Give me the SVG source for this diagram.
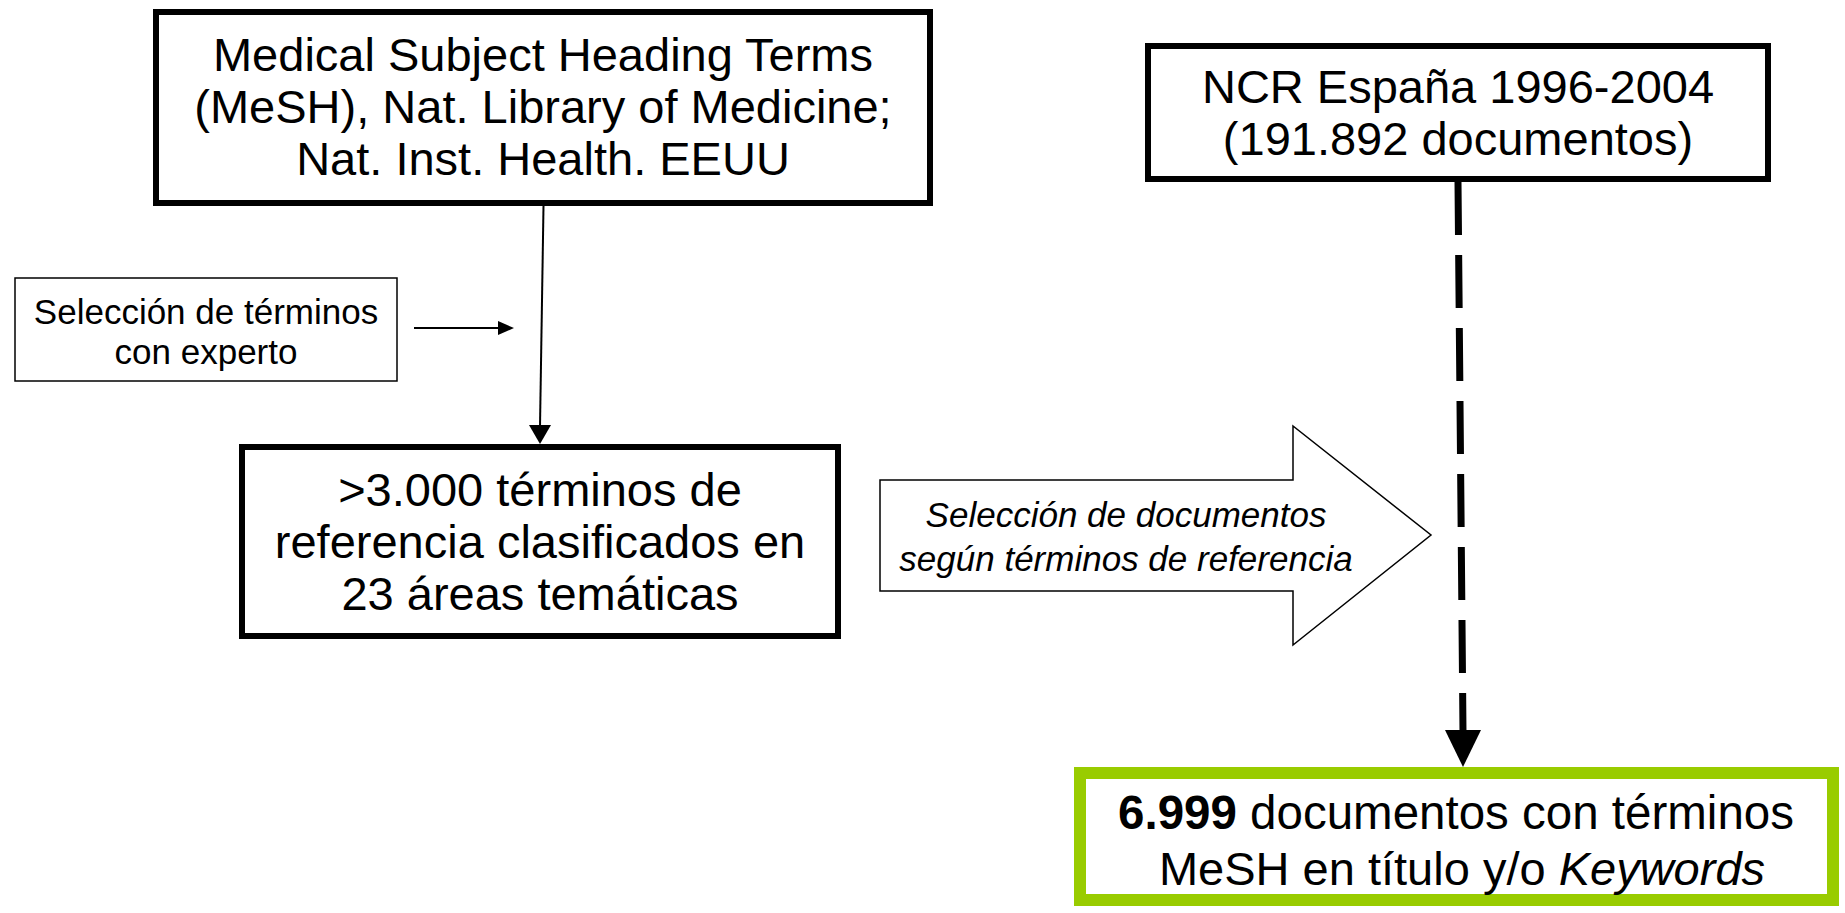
<svg xmlns="http://www.w3.org/2000/svg" width="1845" height="913" viewBox="0 0 1845 913">
<style>
.box{fill:#fff;stroke:#000;stroke-width:6}
.thin{fill:#fff;stroke:#000;stroke-width:1.5}
.t{font-family:"Liberation Sans",Arial,sans-serif;font-size:47px;fill:#000;text-anchor:middle}
.s{font-family:"Liberation Sans",Arial,sans-serif;font-size:35px;fill:#000;text-anchor:middle}
.i{font-style:italic}
</style>
<rect width="1845" height="913" fill="#fff"/>
<g id="connectors">
<line x1="543.5" y1="206" x2="540" y2="427" stroke="#000" stroke-width="2"/>
<polygon points="529,425 551,425 540,444" fill="#000"/>
<line x1="414" y1="328" x2="500" y2="328" stroke="#000" stroke-width="2"/>
<polygon points="498,321 498,335 514,328" fill="#000"/>
<line x1="1458" y1="182" x2="1463" y2="732" stroke="#000" stroke-width="7" stroke-dasharray="53 20"/>
<polygon points="1445,730 1481,730 1463,767" fill="#000"/>
</g>
<g id="mesh">
<rect class="box" x="156" y="12" width="774" height="191"/>
<text class="t" x="543" y="71">Medical Subject Heading Terms</text>
<text class="t" x="543" y="123">(MeSH), Nat. Library of Medicine;</text>
<text class="t" x="543" y="175">Nat. Inst. Health. EEUU</text>
</g>
<g id="ncr">
<rect class="box" x="1148" y="46" width="620" height="133"/>
<text class="t" x="1458" y="103">NCR España 1996-2004</text>
<text class="t" x="1458" y="155">(191.892 documentos)</text>
</g>
<g id="seleccion">
<rect class="thin" x="15" y="278" width="382" height="103"/>
<text class="s" x="206" y="324">Selección de términos</text>
<text class="s" x="206" y="364">con experto</text>
</g>
<g id="terminos">
<rect class="box" x="242" y="447" width="596" height="189"/>
<text class="t" x="540" y="506">&gt;3.000 términos de</text>
<text class="t" x="540" y="558">referencia clasificados en</text>
<text class="t" x="540" y="610">23 áreas temáticas</text>
</g>
<g id="flecha">
<polygon class="thin" points="880,480 1293,480 1293,426 1431,535 1293,645 1293,591 880,591"/>
<text class="s i" x="1126" y="527">Selección de documentos</text>
<text class="s i" x="1126" y="571">según términos de referencia</text>
</g>
<g id="resultado">
<rect x="1080" y="773" width="753" height="127" fill="#fff" stroke="#99CC00" stroke-width="12"/>
<text class="t" x="1456" y="829" style="font-size:47.5px"><tspan font-weight="bold">6.999</tspan> documentos con términos</text>
<text class="t" x="1462" y="885">MeSH en título y/o <tspan font-style="italic">Keywords</tspan></text>
</g>
</svg>
